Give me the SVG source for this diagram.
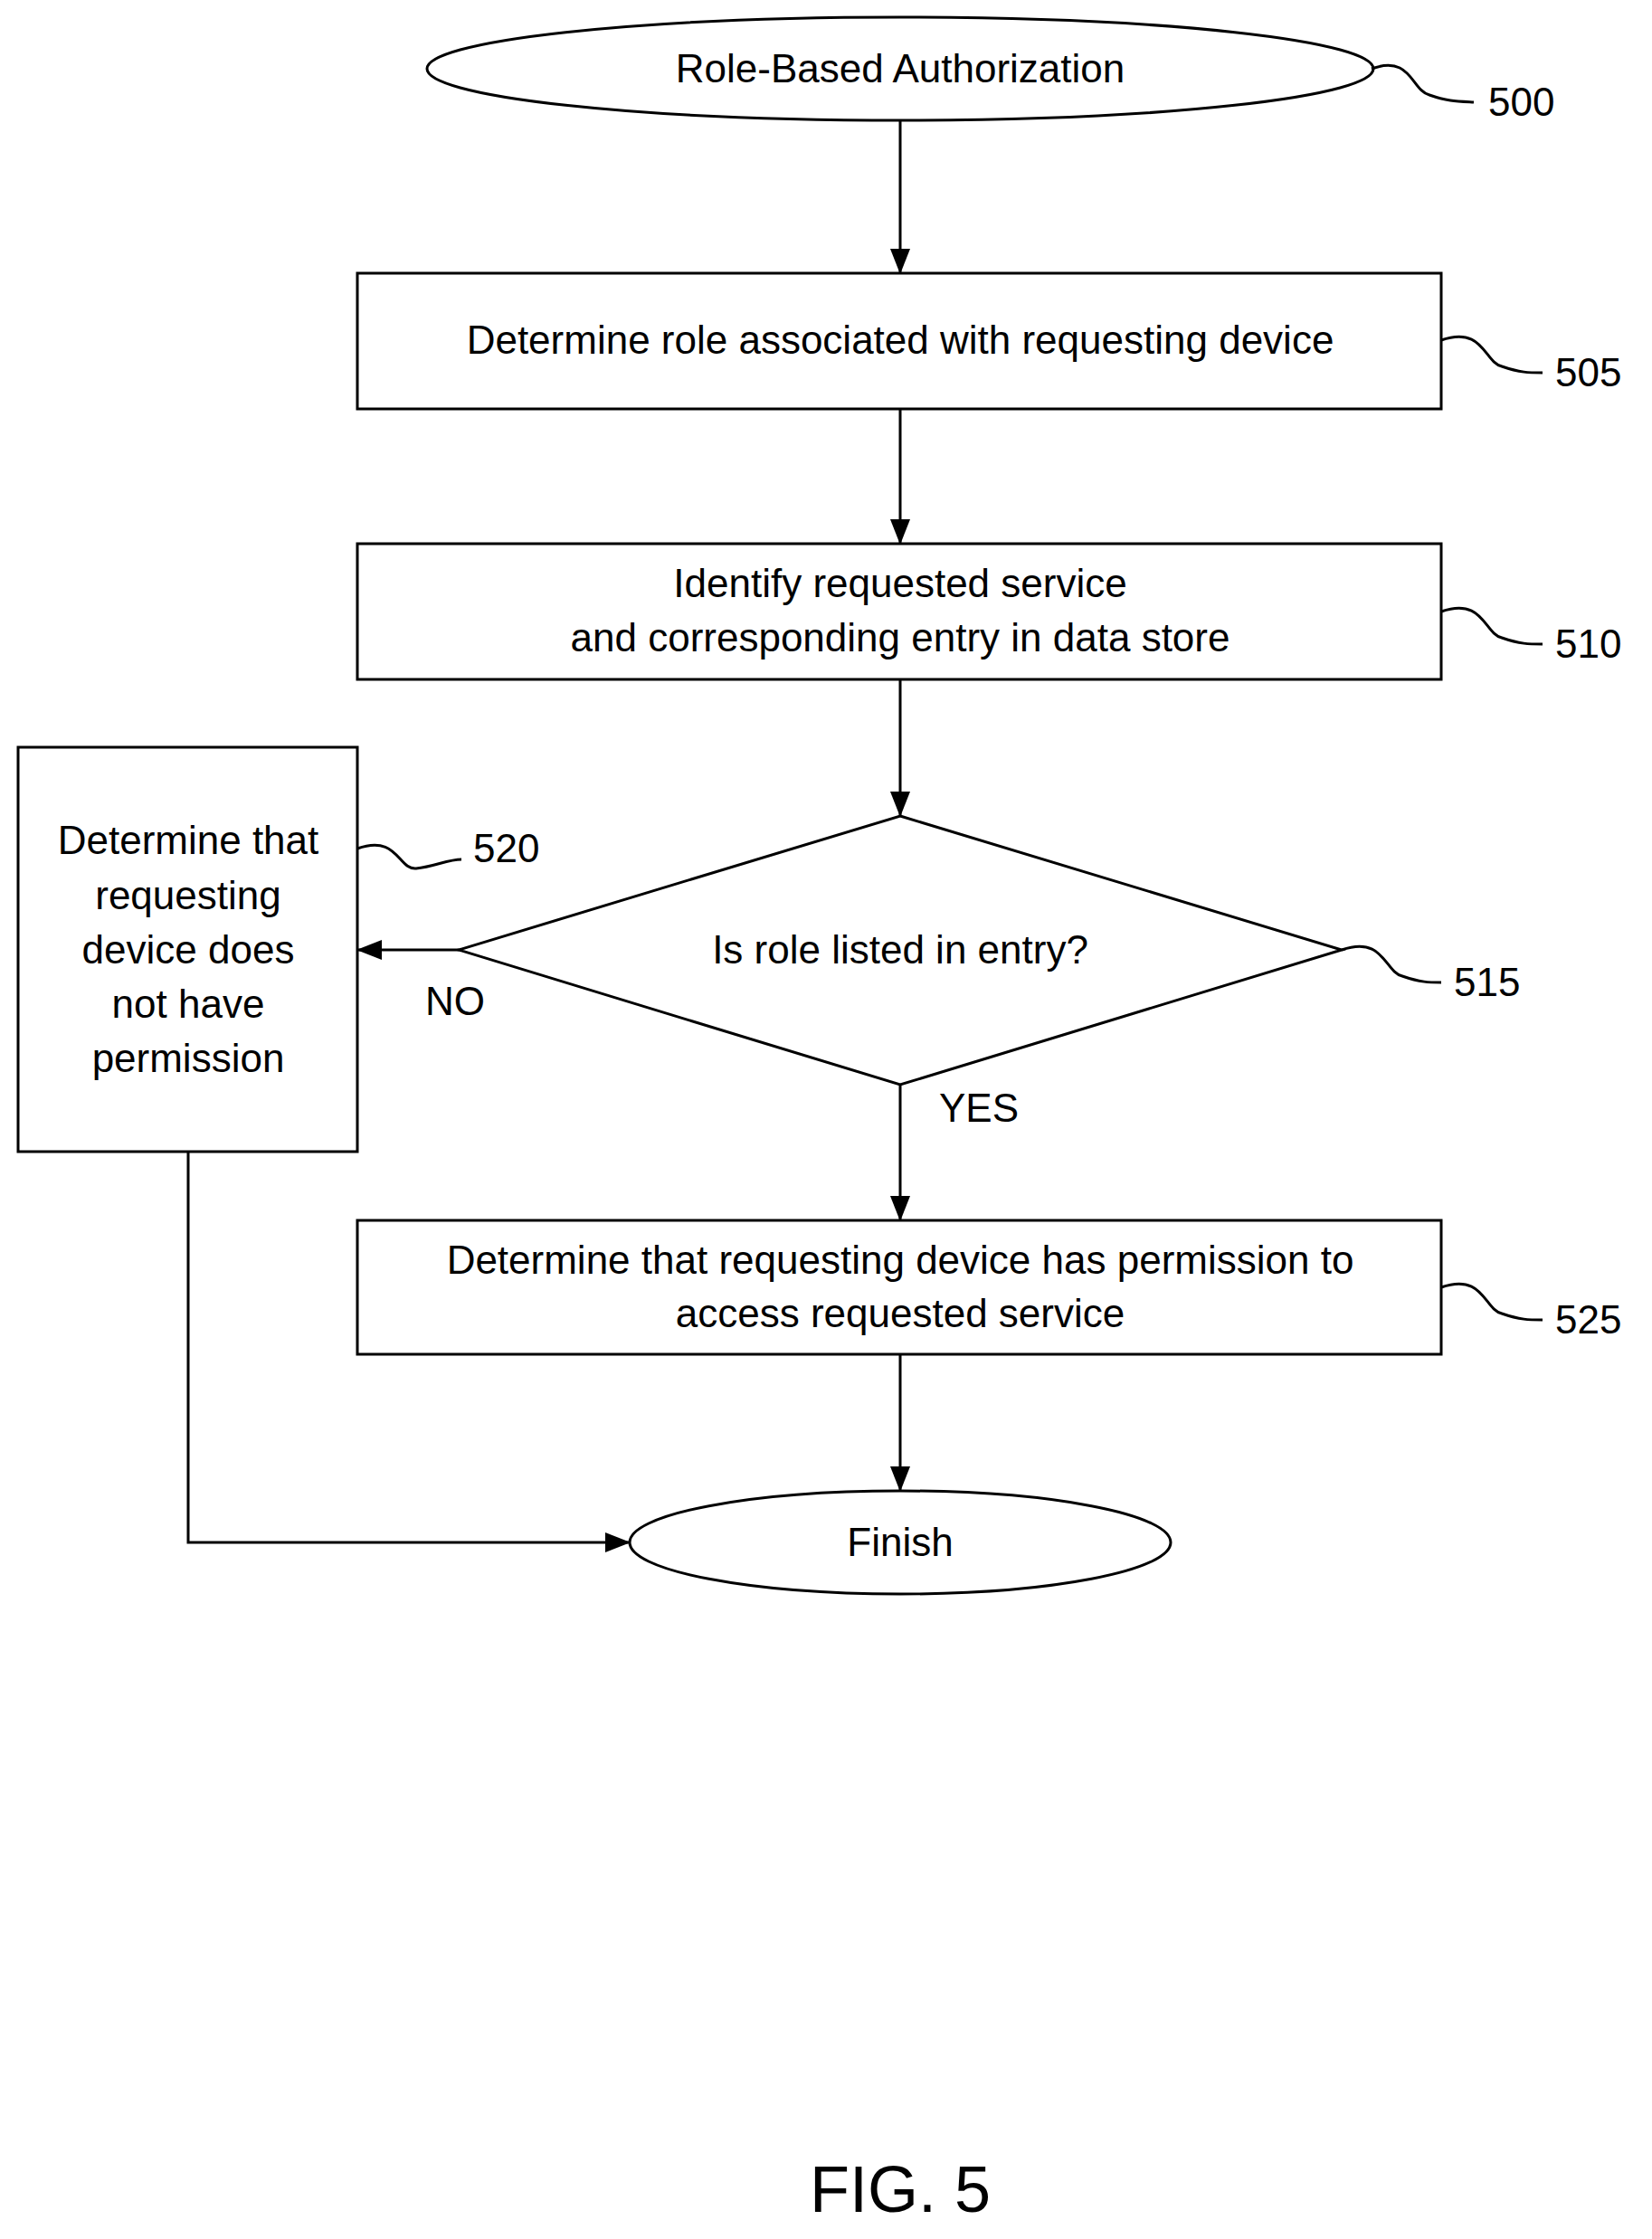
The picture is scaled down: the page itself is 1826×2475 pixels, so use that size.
<svg xmlns="http://www.w3.org/2000/svg" width="1826" height="2475" viewBox="0 0 1826 2475">
<style>
.s{fill:#fff;stroke:#000;stroke-width:3}
.t{font-family:"Liberation Sans",Arial,sans-serif;font-size:44px;text-anchor:middle;fill:#000}
.l{font-family:"Liberation Sans",Arial,sans-serif;font-size:44px;fill:#000}
.c{fill:none;stroke:#000;stroke-width:3}
</style>
<defs><marker id="a" markerWidth="12" markerHeight="10" refX="11" refY="5" orient="auto" markerUnits="userSpaceOnUse" viewBox="0 0 12 10"><path d="M0,0L12,5L0,10z" fill="#000"/></marker>
<marker id="b" markerWidth="28" markerHeight="22" refX="27" refY="11" orient="auto" markerUnits="userSpaceOnUse" viewBox="0 0 28 22"><path d="M0,0L28,11L0,22z" fill="#000"/></marker></defs>
<rect width="1826" height="2475" fill="#fff"/>
<g id="n500"><ellipse class="s" cx="995" cy="76" rx="523" ry="57"/><text class="t" x="995" y="91">Role-Based Authorization</text>
<path class="c" d="M1516,76 C1560,60 1560,100 1580,105 C1600,112 1610,112 1629,113"/><text class="l" x="1645" y="128">500</text></g>
<g id="n505"><rect class="s" x="395" y="302" width="1198" height="150"/><text class="t" x="995" y="391">Determine role associated with requesting device</text>
<path class="c" d="M1593,376 C1640,360 1640,400 1660,405 C1680,412 1690,412 1705,412"/><text class="l" x="1719" y="427">505</text></g>
<g id="n510"><rect class="s" x="395" y="601" width="1198" height="150"/><text class="t" x="995" y="660">Identify requested service</text><text class="t" x="995" y="720">and corresponding entry in data store</text>
<path class="c" d="M1593,676 C1640,660 1640,700 1660,705 C1680,712 1690,712 1705,712"/><text class="l" x="1719" y="727">510</text></g>
<g id="n515"><polygon class="s" points="995,902 1483,1050 995,1199 507,1050"/><text class="t" x="995" y="1065">Is role listed in entry?</text>
<path class="c" d="M1483,1050 C1530,1034 1530,1074 1550,1079 C1570,1086 1580,1086 1593,1086"/><text class="l" x="1607" y="1101">515</text></g>
<g id="n520"><rect class="s" x="20" y="826" width="375" height="447"/>
<text class="t" x="208" y="944">Determine that</text><text class="t" x="208" y="1005">requesting</text><text class="t" x="208" y="1065">device does</text><text class="t" x="208" y="1125">not have</text><text class="t" x="208" y="1185">permission</text>
<path class="c" d="M395,938 C440,922 440,962 460,960 C480,958 495,950 510,950"/><text class="l" x="523" y="953">520</text></g>
<g id="n525"><rect class="s" x="395" y="1349" width="1198" height="148"/><text class="t" x="995" y="1408">Determine that requesting device has permission to</text><text class="t" x="995" y="1467">access requested service</text>
<path class="c" d="M1593,1423 C1640,1407 1640,1447 1660,1452 C1680,1459 1690,1459 1705,1459"/><text class="l" x="1719" y="1474">525</text></g>
<g id="finish"><ellipse class="s" cx="995" cy="1705" rx="299" ry="57"/><text class="t" x="995" y="1720">Finish</text></g>
<g id="connectors">
<line class="c" x1="995" y1="133" x2="995" y2="302" marker-end="url(#b)"/>
<line class="c" x1="995" y1="452" x2="995" y2="601" marker-end="url(#b)"/>
<line class="c" x1="995" y1="751" x2="995" y2="902" marker-end="url(#b)"/>
<line class="c" x1="507" y1="1050" x2="395" y2="1050" marker-end="url(#b)"/>
<line class="c" x1="995" y1="1199" x2="995" y2="1349" marker-end="url(#b)"/>
<line class="c" x1="995" y1="1497" x2="995" y2="1648" marker-end="url(#b)"/>
<polyline class="c" points="208,1273 208,1705 696,1705" marker-end="url(#b)"/>
<text class="l" x="470" y="1122">NO</text><text class="l" x="1038" y="1240">YES</text>
</g>
<text class="t" x="995" y="2445" style="font-size:72px">FIG. 5</text>
</svg>
